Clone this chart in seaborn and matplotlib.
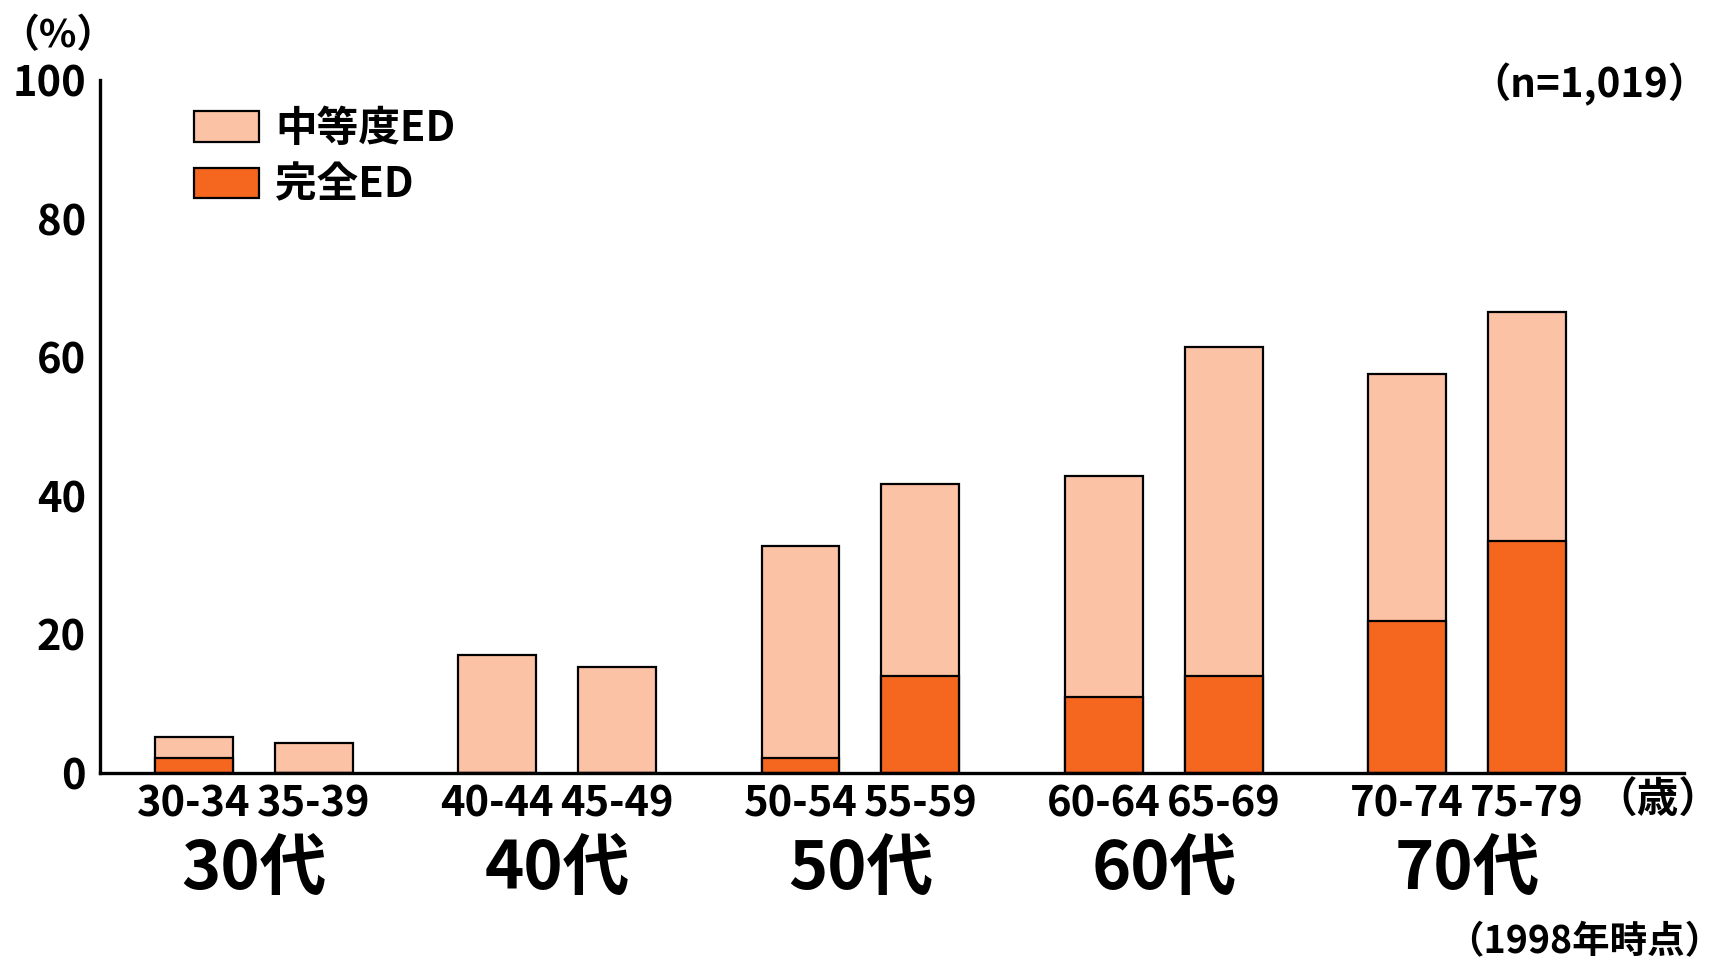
import numpy as np
import pandas as pd
import seaborn as sns
import matplotlib.pyplot as plt
from matplotlib.patches import Patch

# Data (%)
age_groups = ['30-34', '35-39', '40-44', '45-49', '50-54',
              '55-59', '60-64', '65-69', '70-74', '75-79']
decades = ['30代', '40代', '50代', '60代', '70代']
moderate = [3.0, 4.3, 17.0, 15.3, 30.7, 27.7, 31.8, 47.5, 35.7, 33.0]
complete = [2.2, 0.0, 0.0, 0.0, 2.1, 14.0, 11.0, 14.0, 21.9, 33.5]

light = '#FCC2A5'
orange = '#F5661F'

# bar positions: two bars per decade, gap between decades
group_step = 2.53
pos = [(i // 2) * group_step + (i % 2) for i in range(len(age_groups))]

df = pd.DataFrame({'age': age_groups, 'pos': pos,
                   'total': np.array(moderate) + np.array(complete),
                   'complete': complete})

sns.set_style("white")
plt.rcParams['font.family'] = ['Noto Sans CJK JP', 'DejaVu Sans']
plt.rcParams['font.weight'] = 'bold'
plt.rcParams['text.color'] = 'black'

fig, ax = plt.subplots(figsize=(17.26, 9.64), dpi=100)
fig.subplots_adjust(left=0.0579, right=0.9757, top=0.9166, bottom=0.1984)

bar_kw = dict(native_scale=True, orient='x', width=0.65, saturation=1,
              edgecolor='black', linewidth=1.6, errorbar=None, ax=ax)
sns.barplot(data=df, x='pos', y='total', color=light, **bar_kw)
sns.barplot(data=df, x='pos', y='complete', color=orange, **bar_kw)

ax.set_xlim(-0.784, pos[-1] + 1.31)
ax.set_ylim(0, 100)
ax.set_yticks(range(0, 101, 20))
ax.set_xticks(pos)
ax.set_xticklabels(age_groups)
ax.set_xlabel('')
ax.set_ylabel('')
ax.tick_params(axis='y', direction='in', length=9, width=2.2, labelsize=30,
               pad=10, colors='black')
ax.tick_params(axis='x', length=0, labelsize=30, pad=8, colors='black')

for side in ['top', 'right']:
    ax.spines[side].set_visible(False)
for side in ['left', 'bottom']:
    ax.spines[side].set_color('black')
    ax.spines[side].set_linewidth(2.4)

# decade labels under each pair
for g, dec in enumerate(decades):
    ax.text(g * group_step + 0.5, -0.14, dec, transform=ax.get_xaxis_transform(),
            ha='center', va='center', fontsize=48, fontweight='bold', color='black')

W, H = 1726, 964
fig.text(58 / W, 1 - 36 / H, '（%）', ha='center', va='center', fontsize=28)
fig.text(1708 / W, 1 - 85 / H, '（n=1,019）', ha='right', va='center', fontsize=29)
fig.text(1720 / W, 1 - 801 / H, '（歳）', ha='right', va='center', fontsize=30)
fig.text(1722 / W, 1 - 942 / H, '（1998年時点）', ha='right', va='center', fontsize=27)

handles = [Patch(facecolor=light, edgecolor='black', linewidth=1.6, label='中等度ED'),
           Patch(facecolor=orange, edgecolor='black', linewidth=1.6, label='完全ED')]
ax.legend(handles=handles, loc='upper left', bbox_to_anchor=(194 / W, 1 - 108 / H),
          bbox_transform=fig.transFigure, frameon=False, fontsize=30,
          handlelength=1.55, handleheight=0.75, handletextpad=0.4,
          labelspacing=0.35, borderpad=0, borderaxespad=0)

plt.savefig('out.png', dpi=100)
